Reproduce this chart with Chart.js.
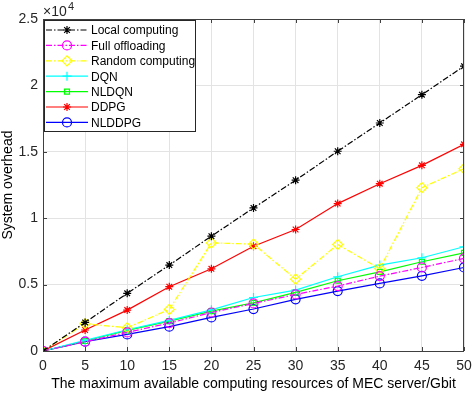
<!DOCTYPE html>
<html>
<head>
<meta charset="utf-8">
<script src="https://cdn.jsdelivr.net/npm/chart.js@4.4.0/dist/chart.umd.min.js"></script>
<style>
  html, body { margin: 0; padding: 0; background: #fff; }
  #wrap { width: 474px; height: 393px; position: relative; }
</style>
</head>
<body>
<div id="wrap"><canvas id="mainChart"></canvas></div>
<script>
// x values (Gbit) and series (system overhead)
const resources = [0, 5, 10, 15, 20, 25, 30, 35, 40, 45, 50];
const localComputing = [0, 2150, 4340, 6470, 8650, 10770, 12860, 15040, 17170, 19300, 21450];
const fullOffloading = [0, 700, 1400, 2100, 2900, 3580, 4260, 4890, 5640, 6290, 6970];
const randomComputing = [0, 2050, 1750, 3130, 8140, 8050, 5410, 8020, 6200, 12300, 13730];
const dqn = [0, 800, 1600, 2300, 3100, 4030, 4590, 5590, 6470, 7020, 7850];
const nldqn = [0, 750, 1550, 2250, 3000, 3630, 4410, 5290, 5960, 6720, 7390];
const ddpg = [0, 1580, 3080, 4840, 6190, 7890, 9150, 11100, 12600, 13980, 15560];
const nlddpg = [0, 700, 1250, 1830, 2530, 3160, 3890, 4510, 5090, 5660, 6290];
const yTicks = [0, 5000, 10000, 15000, 20000, 25000];

const FONT = "'Liberation Sans', Arial, sans-serif";
const dashDot = [6, 2, 1.5, 2];

function series(label, data, color, style, dash, radius) {
    return {
        label: label,
        data: resources.map((x, i) => ({ x: x, y: data[i] })),
        borderColor: color,
        backgroundColor: 'rgba(0,0,0,0)',
        borderWidth: 1.2,
        borderDash: dash,
        pointStyle: style,
        pointRadius: radius,
        pointBorderColor: color,
        pointBackgroundColor: 'rgba(0,0,0,0)',
        pointBorderWidth: 1.2,
        tension: 0
    };
}

// legend box + x10^4 label + inward ticks, MATLAB style
const matlabPlugin = {
    id: 'matlab',
    afterDraw(chart) {
        const ctx = chart.ctx;
        const a = chart.chartArea;
        const xs = chart.scales.x, ys = chart.scales.y;
        ctx.save();
        // inward tick marks on all four sides
        ctx.strokeStyle = '#404040';
        ctx.lineWidth = 1;
        ctx.setLineDash([]);
        ctx.beginPath();
        resources.forEach(v => {
            const px = Math.round(xs.getPixelForValue(v)) + 0.5;
            ctx.moveTo(px, a.bottom); ctx.lineTo(px, a.bottom - 4);
            ctx.moveTo(px, a.top); ctx.lineTo(px, a.top + 4);
        });
        yTicks.forEach(v => {
            const py = Math.round(ys.getPixelForValue(v)) + 0.5;
            ctx.moveTo(a.left, py); ctx.lineTo(a.left + 4, py);
            ctx.moveTo(a.right, py); ctx.lineTo(a.right - 4, py);
        });
        ctx.stroke();
        ctx.strokeRect(Math.round(a.left) + 0.5, Math.round(a.top) + 0.5,
            Math.round(a.right - a.left) - 1, Math.round(a.bottom - a.top));

        // exponent label
        ctx.fillStyle = '#262626';
        ctx.font = '14px ' + FONT;
        ctx.textBaseline = 'alphabetic';
        ctx.fillText('\u00d710', a.left, a.top - 3);
        ctx.font = '11px ' + FONT;
        ctx.fillText('4', a.left + 25, a.top - 9);

        // legend
        const bx = a.left + 1, by = a.top + 1, bw = 151, bh = 111;
        ctx.fillStyle = '#fff';
        ctx.fillRect(bx, by, bw, bh);
        ctx.strokeStyle = '#262626';
        ctx.strokeRect(bx + 0.5, by + 0.5, bw, bh);
        chart.data.datasets.forEach((ds, i) => {
            const yy = by + 10 + i * 15.4;
            ctx.strokeStyle = ds.borderColor;
            ctx.lineWidth = 1.2;
            ctx.setLineDash(ds.borderDash || []);
            ctx.beginPath();
            ctx.moveTo(bx + 2, yy); ctx.lineTo(bx + 44, yy);
            ctx.stroke();
            ctx.setLineDash([]);
            ctx.fillStyle = 'rgba(0,0,0,0)';
            ctx.strokeStyle = ds.borderColor;
            Chart.helpers.drawPoint(ctx, {
                pointStyle: ds.pointStyle, radius: ds.pointRadius, rotation: 0,
                borderWidth: 1.2
            }, bx + 23, yy);
            ctx.fillStyle = '#000';
            ctx.font = '12px ' + FONT;
            ctx.textBaseline = 'middle';
            ctx.fillText(ds.label, bx + 47, yy + 1);
        });
        ctx.restore();
    }
};

const ctx = document.getElementById('mainChart').getContext('2d');
new Chart(ctx, {
    type: 'line',
    data: {
        datasets: [
            series('Local computing', localComputing, '#000000', 'star', dashDot, 4),
            series('Full offloading', fullOffloading, '#ff00ff', 'circle', dashDot, 4.5),
            series('Random computing', randomComputing, '#ffff00', 'rectRot', dashDot, 5),
            series('DQN', dqn, '#00ffff', 'cross', [], 4.5),
            series('NLDQN', nldqn, '#00ff00', 'rect', [], 3.5),
            series('DDPG', ddpg, '#ff0000', 'star', [], 4),
            series('NLDDPG', nlddpg, '#0000ff', 'circle', [], 4.5)
        ]
    },
    options: {
        responsive: true,
        maintainAspectRatio: false,
        animation: false,
        layout: { padding: { top: 19, right: 10, left: 0, bottom: 0 } },
        plugins: {
            legend: { display: false },
            tooltip: { enabled: false }
        },
        scales: {
            x: {
                type: 'linear',
                min: 0, max: 50,
                grid: { color: '#e3e3e3', drawTicks: false },
                border: { display: false },
                ticks: {
                    stepSize: 5, padding: 7, color: '#262626',
                    font: { family: FONT, size: 14 }
                },
                title: {
                    display: true,
                    text: 'The maximum available computing resources of MEC server/Gbit',
                    color: '#000', padding: { top: 0, bottom: 0 },
                    font: { family: FONT, size: 14 }
                },
                afterFit(s) { s.height = 42; s.paddingRight = 0; s.paddingLeft = 0; }
            },
            y: {
                min: 0, max: 25000,
                grid: { color: '#e3e3e3', drawTicks: false },
                border: { display: false },
                afterBuildTicks(s) { s.ticks = yTicks.map(v => ({ value: v })); },
                ticks: {
                    padding: 5, color: '#262626',
                    font: { family: FONT, size: 14 },
                    callback: v => String(v / 10000)
                },
                title: {
                    display: true, text: 'System overhead', color: '#000',
                    padding: { top: 0, bottom: 1 },
                    font: { family: FONT, size: 14 }
                },
                afterFit(s) { s.width = 43; s.paddingTop = 0; s.paddingBottom = 0; }
            }
        }
    },
    plugins: [matlabPlugin]
});
</script>
</body>
</html>
